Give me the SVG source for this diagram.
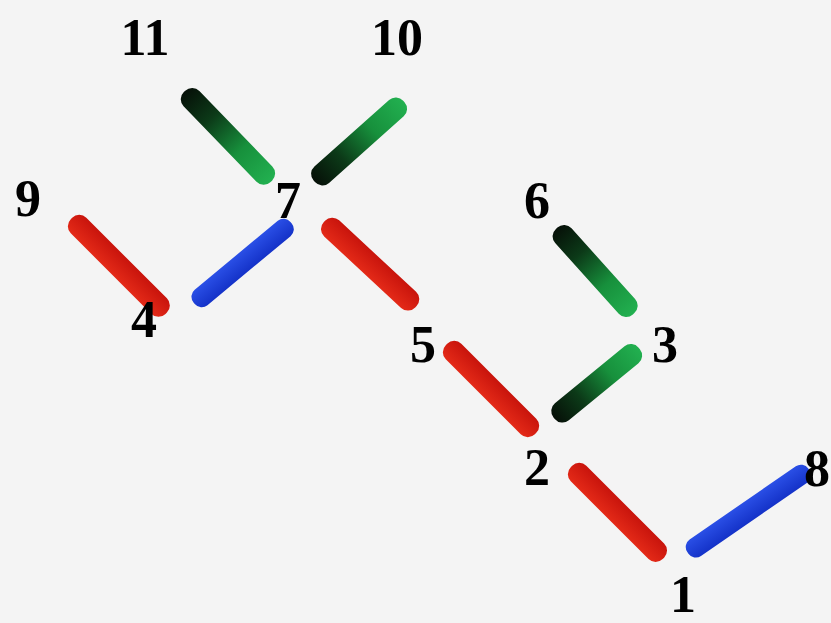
<svg xmlns="http://www.w3.org/2000/svg" width="831" height="623" viewBox="0 0 831 623">
<defs>
<linearGradient id="gd" x1="0" y1="0" x2="1" y2="0">
<stop offset="0" stop-color="#061008"/>
<stop offset="0.3" stop-color="#0c3a18"/>
<stop offset="0.65" stop-color="#17903c"/>
<stop offset="1" stop-color="#22b050"/>
</linearGradient>
<linearGradient id="gr" x1="0" y1="0" x2="0" y2="1">
<stop offset="0" stop-color="#c8140c"/>
<stop offset="1" stop-color="#e42a18"/>
</linearGradient>
<linearGradient id="gb" x1="0" y1="0" x2="0" y2="1">
<stop offset="0" stop-color="#2a4fe6"/>
<stop offset="1" stop-color="#1432c8"/>
</linearGradient>
</defs>
<style>
.red{fill:url(#gr)}
.blue{fill:url(#gb)}
.green{fill:url(#gd)}
.lbl{font-family:"Liberation Serif","Times New Roman",serif;font-weight:bold;font-size:52px;fill:#000;text-anchor:middle}
</style>
<rect width="831" height="623" fill="#f4f4f4"/>
<g id="bars">
<rect class="red" x="-5" y="-11" width="134" height="22" rx="10" transform="translate(75,222) rotate(45)"/>
<rect class="blue" x="-5" y="-10" width="126" height="20" rx="9" transform="translate(198,300) rotate(-39.7)"/>
<rect class="green" x="-5" y="-11" width="125" height="22" rx="10" transform="translate(188,95) rotate(46)"/>
<rect class="green" x="-5" y="-11" width="120" height="22" rx="10" transform="translate(318,178) rotate(-41.7)"/>
<rect class="red" x="-5" y="-11" width="125" height="22" rx="10" transform="translate(328,225) rotate(42.9)"/>
<rect class="red" x="-5" y="-11" width="126" height="22" rx="10" transform="translate(450,348) rotate(45)"/>
<rect class="green" x="-5" y="-11" width="115" height="22" rx="10" transform="translate(560,232) rotate(48)"/>
<rect class="green" x="-5" y="-11" width="110" height="22" rx="10" transform="translate(558,415) rotate(-39.3)"/>
<rect class="red" x="-5" y="-11" width="130" height="22" rx="10" transform="translate(575,470) rotate(45)"/>
<rect class="blue" x="-5" y="-10" width="147" height="20" rx="9" transform="translate(692,550) rotate(-34.6)"/>
</g>
<g id="labels">
<text class="lbl" x="145" y="55">11</text>
<text class="lbl" x="397" y="55">10</text>
<text class="lbl" x="28" y="216">9</text>
<text class="lbl" x="288" y="218">7</text>
<text class="lbl" x="537" y="218">6</text>
<text class="lbl" x="144" y="337">4</text>
<text class="lbl" x="423" y="362">5</text>
<text class="lbl" x="665" y="362">3</text>
<text class="lbl" x="537" y="485">2</text>
<text class="lbl" x="817" y="486">8</text>
<text class="lbl" x="683" y="612">1</text>
</g>
</svg>
